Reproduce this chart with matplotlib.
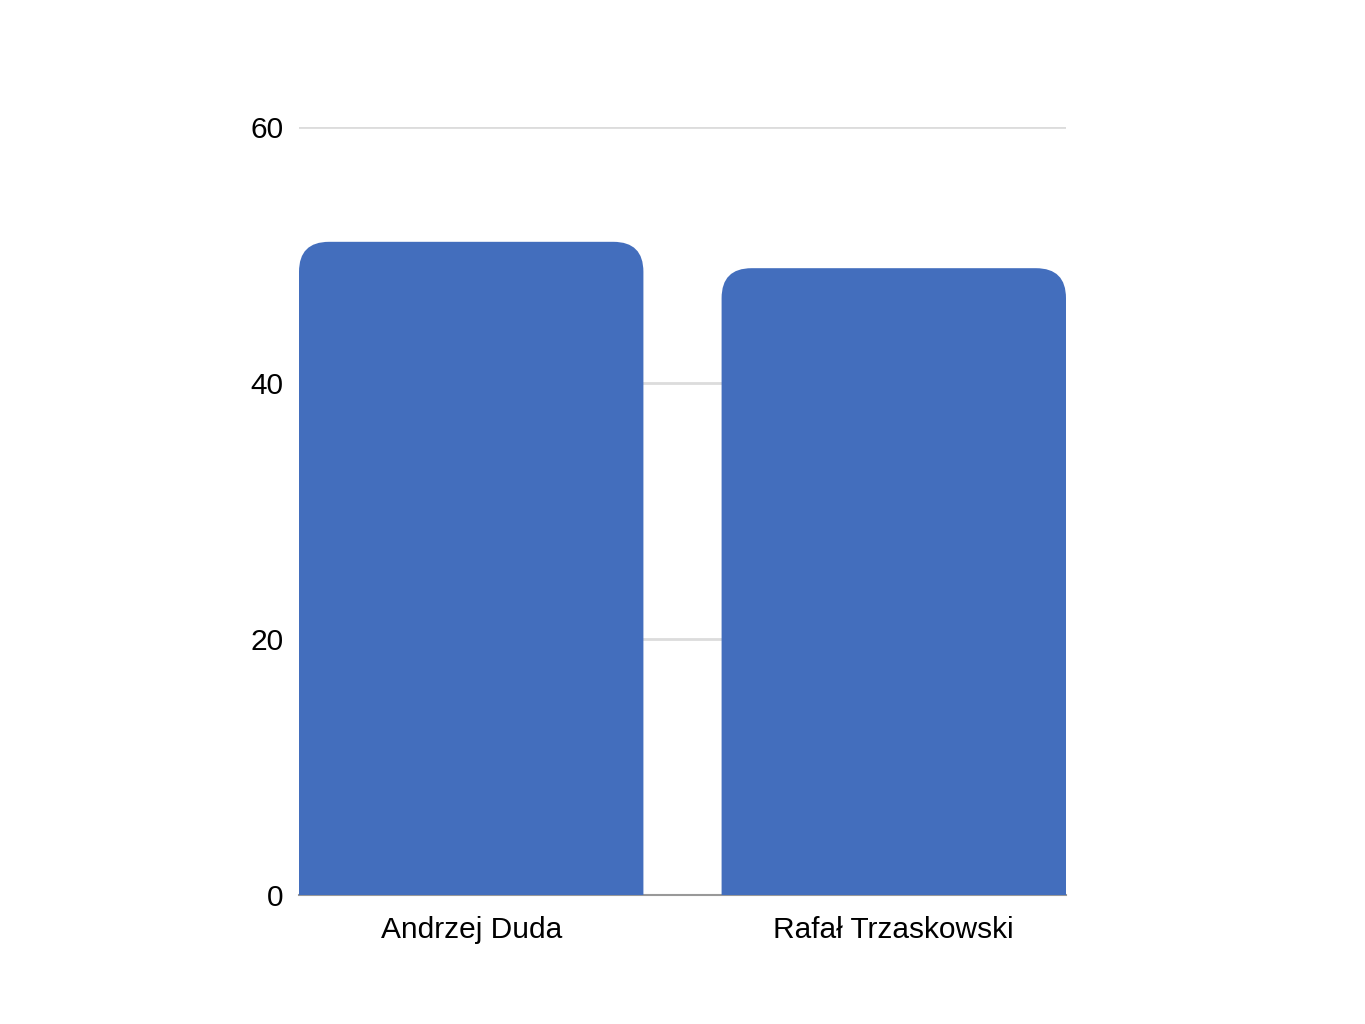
import matplotlib
matplotlib.use("Agg")
import matplotlib.pyplot as plt
from matplotlib.patches import PathPatch
from matplotlib.path import Path

# 2020 Polish presidential election, second round (%)
candidates = ["Andrzej Duda", "Rafał Trzaskowski"]
votes = [51.03, 48.97]
yticks = [0, 20, 40, 60]

BAR_COLOR = "#436EBD"

plt.rcParams["font.family"] = ["Liberation Sans", "DejaVu Sans"]

fig = plt.figure(figsize=(13.65, 10.24), dpi=100)
W, H = 1365, 1024
ax = fig.add_axes([299 / W, (H - 895) / H, (1066 - 299) / W, (895 - 127) / H])

width = 0.815
x = list(range(len(candidates)))
ax.set_xlim(-width / 2, len(candidates) - 1 + width / 2)
ax.set_ylim(0, 60)

# corner radius in pixels, converted to data units on each axis
r_px = 30
px_per_x = (1066 - 299) / (len(candidates) - 1 + width)
px_per_y = (895 - 127) / 60.0
rx = r_px / px_per_x
ry = r_px / px_per_y


def top_rounded_bar(xc, h):
    l, r = xc - width / 2, xc + width / 2
    verts = [(l, 0), (l, h - ry), (l, h), (l + rx, h), (r - rx, h),
             (r, h), (r, h - ry), (r, 0), (l, 0)]
    codes = [Path.MOVETO, Path.LINETO, Path.CURVE3, Path.CURVE3, Path.LINETO,
             Path.CURVE3, Path.CURVE3, Path.LINETO, Path.CLOSEPOLY]
    return PathPatch(Path(verts, codes), facecolor=BAR_COLOR, edgecolor="none", zorder=3)


for xi, v in zip(x, votes):
    ax.add_patch(top_rounded_bar(xi, v))

ax.set_yticks(yticks)
ax.set_yticklabels([str(t) for t in yticks])
ax.set_xticks(x)
ax.set_xticklabels(candidates)
ax.tick_params(axis="both", length=0, labelsize=21.5, colors="#000000")
ax.tick_params(axis="y", pad=11)
ax.tick_params(axis="x", pad=15)

ax.grid(axis="y", color="#dcdcdc", linewidth=2, zorder=0)
ax.set_axisbelow(True)
for s in ["top", "right", "left"]:
    ax.spines[s].set_visible(False)
ax.spines["bottom"].set_color("#999999")
ax.spines["bottom"].set_linewidth(1.5)
ax.spines["bottom"].set_zorder(1)

fig.savefig("out.png", dpi=100, facecolor="white")
